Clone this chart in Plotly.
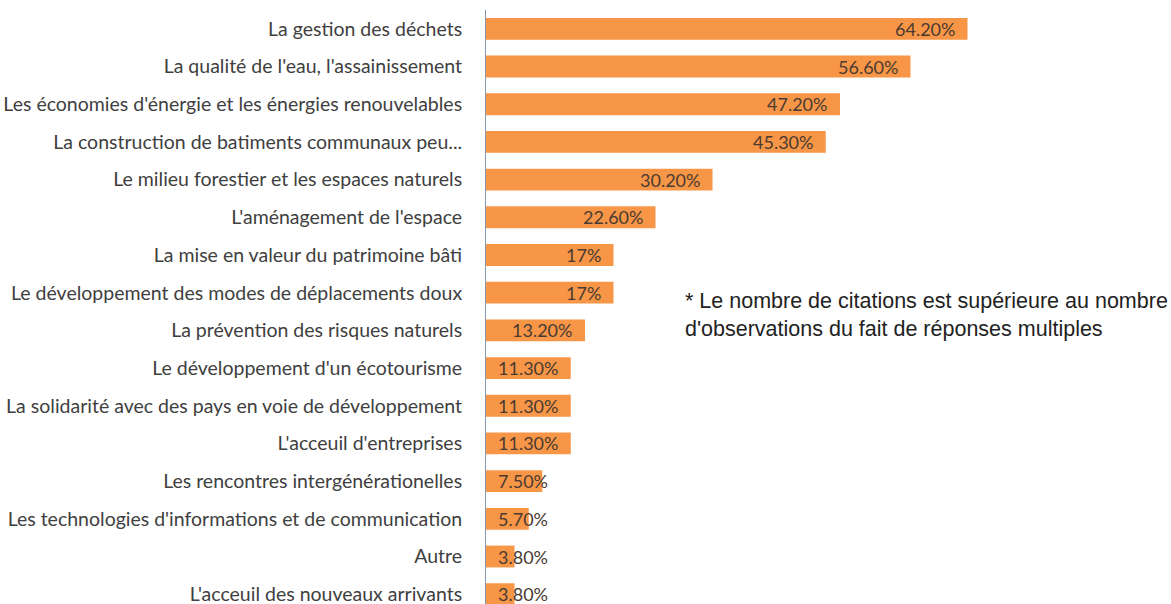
import plotly.graph_objects as go

categories = [
    "La gestion des déchets",
    "La qualité de l'eau, l'assainissement",
    "Les économies d'énergie et les énergies renouvelables",
    "La construction de batiments communaux peu...",
    "Le milieu forestier et les espaces naturels",
    "L'aménagement de l'espace",
    "La mise en valeur du patrimoine bâti",
    "Le développement des modes de déplacements doux",
    "La prévention des risques naturels",
    "Le développement d'un écotourisme",
    "La solidarité avec des pays en voie de développement",
    "L'acceuil d'entreprises",
    "Les rencontres intergénérationelles",
    "Les technologies d'informations et de communication",
    "Autre",
    "L'acceuil des nouveaux arrivants",
]
values = [64.2, 56.6, 47.2, 45.3, 30.2, 22.6, 17, 17, 13.2, 11.3, 11.3, 11.3, 7.5, 5.7, 3.8, 3.8]
note_lines = [
    "* Le nombre de citations est supérieure au nombre",
    "d'observations du fait de réponses multiples",
]

BAR = "#F79646"
TEXT = "#404040"
LABEL = "#4a3b32"
FONT = "Lato"

def fmt(v):
    return f"{v:.0f}%" if float(v).is_integer() else f"{v:.2f}%"

idx = list(range(len(categories)))

fig = go.Figure(go.Bar(
    x=values, y=idx, orientation="h",
    marker=dict(color=BAR, line=dict(width=0)),
    width=0.58, hoverinfo="skip",
))

annotations = []
for i, v in enumerate(values):
    if v >= 10:
        # label sits inside the bar, against its end
        annotations.append(dict(x=v, y=i, xref="x", yref="y", text=fmt(v),
                                xanchor="right", xshift=-11, showarrow=False,
                                font=dict(family=FONT, size=18, color=LABEL)))
    else:
        # short bars: label starts near the base and runs past the end
        annotations.append(dict(x=0, y=i, xref="x", yref="y", text=fmt(v),
                                xanchor="left", xshift=10, showarrow=False,
                                font=dict(family=FONT, size=18, color=LABEL)))

L, R, T, B = 486, 10, 10, 0
W, H = 1171 - L - R, 604 - T - B
annotations.append(dict(
    x=(683 - L) / W, y=1 - (315 - T) / H, xref="paper", yref="paper",
    text="<br>".join(note_lines),
    xanchor="left", yanchor="middle", align="left", showarrow=False,
    font=dict(family="Liberation Sans", size=21.5, color="#222222"),
))

fig.update_layout(
    width=1171, height=604,
    margin=dict(l=L, r=R, t=T, b=B),
    paper_bgcolor="white", plot_bgcolor="white",
    showlegend=False,
    annotations=annotations,
    xaxis=dict(range=[0, 90], visible=False),
    yaxis=dict(
        range=[15.26, -0.5], tickmode="array", tickvals=idx, ticktext=categories,
        showline=True, linecolor="#8797AB", linewidth=1, showgrid=False,
        zeroline=False, ticks="", ticklabelstandoff=19, ticklabeloverflow="allow",
        tickfont=dict(family=FONT, size=19.5, color=TEXT),
    ),
)

fig.write_html("out.html")
